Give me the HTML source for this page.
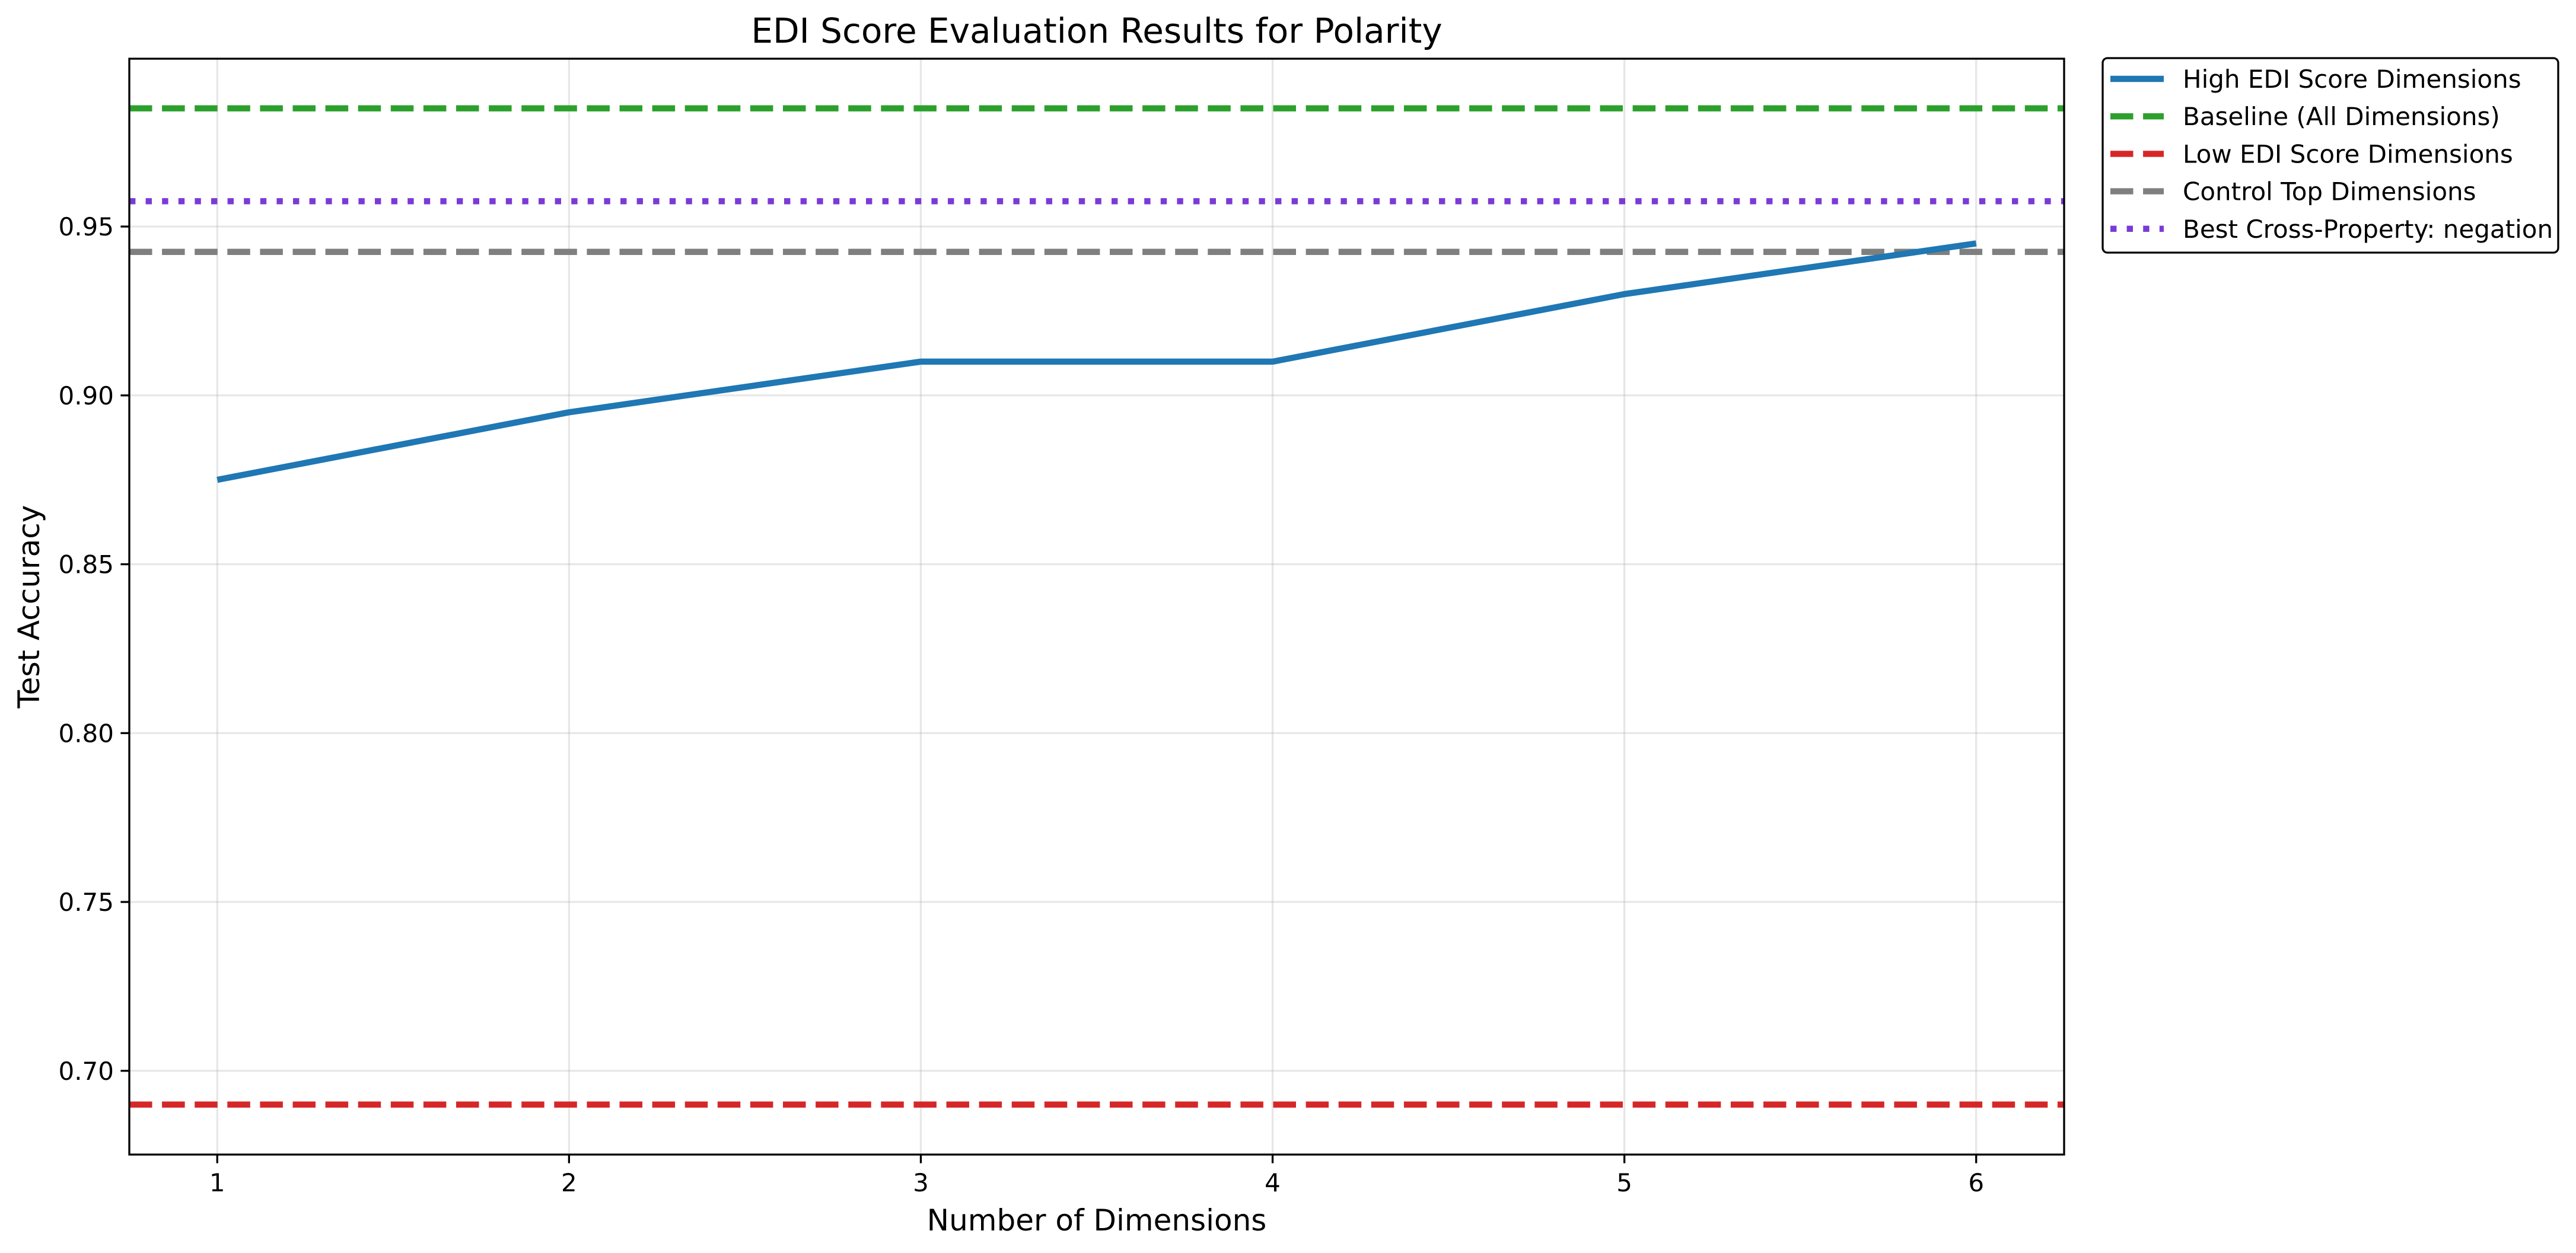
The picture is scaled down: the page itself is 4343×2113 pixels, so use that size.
<!DOCTYPE html>
<html><head><meta charset="utf-8"><style>
html,body{margin:0;padding:0;background:#fff;}
svg{display:block;font-family:"DejaVu Sans","Liberation Sans",sans-serif;}
</style></head><body>
<svg id="chart" width="4343" height="2113" viewBox="0 0 4343 2113" xmlns="http://www.w3.org/2000/svg">
<rect width="4343" height="2113" fill="#fff"/>
<g id="grid"></g>
<g id="marks"></g>
<rect x="218" y="99" width="3262" height="1848" fill="none" stroke="#000" stroke-width="3.3"/>
<g id="ticks"></g>
<text x="1849" y="72" font-size="58" text-anchor="middle">EDI Score Evaluation Results for Polarity</text>
<text x="1849" y="2075" font-size="50" text-anchor="middle">Number of Dimensions</text>
<text x="66" y="1023" font-size="50" text-anchor="middle" transform="rotate(-90 66 1023)">Test Accuracy</text>
<g>
<rect x="3545" y="98" width="768" height="328" rx="8" fill="#fff" stroke="#000" stroke-width="3.3"/>
<g id="legend-items"></g>
</g>
</svg>
<script>
const xCategories = [1, 2, 3, 4, 5, 6];
const highEdiValues = [0.875, 0.895, 0.91, 0.91, 0.93, 0.945];
const baselineValue = [0.985];
const lowEdiValue = [0.69];
const controlTopValue = [0.9425];
const bestCrossValue = [0.9575];
const yTickLabels = ["0.70", "0.75", "0.80", "0.85", "0.90", "0.95"];
const xTickLabels = ["1", "2", "3", "4", "5", "6"];
const legendLabels = ["High EDI Score Dimensions", "Baseline (All Dimensions)", "Low EDI Score Dimensions", "Control Top Dimensions", "Best Cross-Property: negation"];

const X0 = 218, X1 = 3480, Y0 = 99, Y1 = 1947;
const XMIN = 0.75, XMAX = 6.25, YMIN = 0.6752, YMAX = 0.9997;
function xs(v){ return X0 + (v - XMIN) / (XMAX - XMIN) * (X1 - X0); }
function ys(v){ return Y1 - (v - YMIN) / (YMAX - YMIN) * (Y1 - Y0); }
const NS = "http://www.w3.org/2000/svg";
function mk(tag, attrs, parent){
  const e = document.createElementNS(NS, tag);
  for (const k in attrs) e.setAttribute(k, attrs[k]);
  parent.appendChild(e);
  return e;
}
const grid = document.getElementById('grid');
const ticks = document.getElementById('ticks');
const marks = document.getElementById('marks');

xTickLabels.forEach(function(t){
  const v = parseFloat(t), x = xs(v);
  const g = mk('line', {x1:x, x2:x, y1:Y0, y2:Y1, stroke:'#b0b0b0', 'stroke-opacity':0.3, 'stroke-width':3.3}, grid);
  
  
  const tk = mk('line', {x1:x, x2:x, y1:Y1, y2:Y1+14.6, stroke:'#000', 'stroke-width':3.3}, ticks);
  
  
  const tx = mk('text', {x:x, y:Y1+62, 'font-size':42, 'text-anchor':'middle'}, ticks);
  tx.textContent = t;
  
  
});
yTickLabels.forEach(function(t){
  const v = parseFloat(t), y = ys(v);
  const g = mk('line', {x1:X0, x2:X1, y1:y, y2:y, stroke:'#b0b0b0', 'stroke-opacity':0.3, 'stroke-width':3.3}, grid);
  
  
  const tk = mk('line', {x1:X0-14.6, x2:X0, y1:y, y2:y, stroke:'#000', 'stroke-width':3.3}, ticks);
  
  
  const tx = mk('text', {x:X0-26, y:y+15, 'font-size':42, 'text-anchor':'end'}, ticks);
  tx.textContent = t;
  
  
});

function hline(v, color, dash, name){
  const y = ys(v[0]);
  const l = mk('line', {x1:X0, x2:X1, y1:y, y2:y, stroke:color, 'stroke-width':10.4, 'stroke-dasharray':dash}, marks);
  
  
}
hline(baselineValue, '#2ca02c', '38.5 16.6', 'baseline-line');
hline(lowEdiValue, '#d62728', '38.5 16.6', 'low-edi-line');
hline(controlTopValue, '#7f7f7f', '38.5 16.6', 'control-top-line');
hline(bestCrossValue, '#7a3bd4', '10.4 17.2', 'best-cross-property-line');

const pts = xCategories.map(function(c, i){ return xs(c) + ',' + ys(highEdiValues[i]); }).join(' ');
const pl = mk('polyline', {points:pts, fill:'none', stroke:'#1f77b4', 'stroke-width':10.4, 'stroke-linejoin':'round'}, marks);



const li = document.getElementById('legend-items');
const styles = [['#1f77b4','none'],['#2ca02c','38.5 16.6'],['#d62728','38.5 16.6'],['#7f7f7f','38.5 16.6'],['#7a3bd4','10.4 17.2']];
legendLabels.forEach(function(lbl, i){
  const y = 133 + i * 63.2;
  const h = mk('line', {x1:3558, x2:3648, y1:y, y2:y, stroke:styles[i][0], 'stroke-width':10.4, 'stroke-dasharray':styles[i][1]}, li);
  
  
  const t = mk('text', {x:3680, y:y+15, 'font-size':42}, li);
  t.textContent = lbl;
  
  
});
</script>
</body></html>
